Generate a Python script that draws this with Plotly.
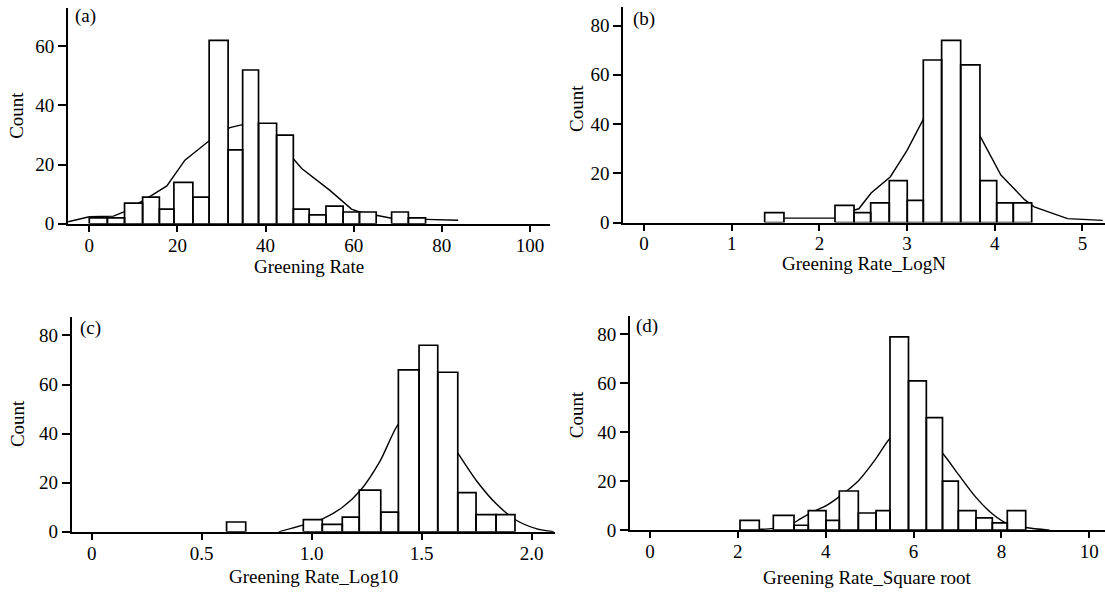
import plotly.graph_objects as go

W, H = 1105, 602
FONT = "Liberation Serif, Times New Roman, serif"
FS = 19

# ---- (a) Greening Rate ----
a_edges = [0.0, 4.1, 8.0, 12.1, 15.9, 19.2, 23.5, 27.2, 31.5, 34.8, 38.4,
           42.5, 46.3, 49.9, 53.7, 57.6, 61.3, 65.1, 68.6, 72.4, 76.3]
a_counts = [2, 2, 7, 9, 5, 14, 9, 62, 25, 52, 34, 30, 5, 3, 6, 4, 4, 0, 4, 2]
a_curve_x = [-4.8, 0.0, 5.5, 8.0, 13.8, 17.6, 21.7, 27.2, 31.9, 35.0, 38.5,
             42.5, 46.3, 48.2, 54.6, 59.5, 61.3, 65.1, 68.6, 76.3, 83.7]
a_curve_y = [0.7, 2.4, 2.6, 4.1, 9.3, 12.8, 21.5, 28.1, 32.5, 33.6, 33.0,
             29.0, 22.0, 18.7, 11.3, 5.0, 4.0, 2.9, 1.9, 1.5, 1.2]
a_xticks = [0, 20, 40, 60, 80, 100]
a_xlabels = ["0", "20", "40", "60", "80", "100"]
a_yticks = [0, 20, 40, 60]

# ---- (b) Greening Rate_LogN ----
b_edges = [1.376, 1.596, 1.790, 1.985, 2.178, 2.395, 2.585, 2.797, 3.002,
           3.185, 3.394, 3.611, 3.831, 4.022, 4.211, 4.421]
b_counts = [4, 0, 0, 0, 7, 4, 8, 17, 9, 66, 74, 64, 17, 8, 8]
b_curve_x = [1.38, 2.18, 2.40, 2.45, 2.59, 2.81, 3.00, 3.19, 3.40, 3.60,
             3.84, 4.07, 4.34, 4.45, 4.83, 5.23]
b_curve_y = [1.8, 1.8, 5.1, 5.6, 12.0, 18.6, 29.3, 42.3, 50.0, 48.0,
             34.6, 19.3, 9.3, 6.4, 1.6, 0.9]
b_xticks = [0, 1, 2, 3, 4, 5]
b_xlabels = ["0", "1", "2", "3", "4", "5"]
b_yticks = [0, 20, 40, 60, 80]

# ---- (c) Greening Rate_Log10 ----
c_edges = [0.613, 0.700, 0.788, 0.875, 0.962, 1.048, 1.139, 1.216, 1.314,
           1.394, 1.488, 1.573, 1.664, 1.747, 1.838, 1.924]
c_counts = [4, 0, 0, 0, 5, 3, 6, 17, 8, 66, 76, 65, 16, 7, 7]
c_curve_x = [0.85, 0.96, 1.05, 1.14, 1.22, 1.31, 1.39, 1.46, 1.53, 1.60,
             1.66, 1.75, 1.84, 1.93, 2.02, 2.10]
c_curve_y = [0.0, 2.7, 5.3, 10.0, 16.7, 28.7, 43.4, 50.0, 48.5, 41.0,
             32.7, 20.7, 11.3, 4.7, 1.3, 0.0]
c_xticks = [0, 0.5, 1.0, 1.5, 2.0]
c_xlabels = ["0", "0.5", "1.0", "1.5", "2.0"]
c_yticks = [0, 20, 40, 60, 80]

# ---- (d) Greening Rate_Square root ----
d_edges = [2.049, 2.488, 2.807, 3.278, 3.603, 4.006, 4.309, 4.742, 5.145,
           5.463, 5.884, 6.290, 6.658, 7.018, 7.421, 7.792, 8.133, 8.552]
d_counts = [4, 0, 6, 2, 8, 4, 16, 7, 8, 79, 61, 46, 20, 8, 5, 3, 8]
d_curve_x = [2.05, 2.47, 2.81, 3.28, 3.42, 3.72, 4.01, 4.31, 4.74, 5.15,
             5.46, 5.80, 6.20, 6.66, 7.02, 7.42, 7.79, 8.13, 8.55, 9.10]
d_curve_y = [0.1, 0.3, 0.7, 3.1, 4.6, 7.6, 10.0, 13.7, 20.1, 29.4,
             37.5, 42.0, 40.0, 31.4, 22.8, 13.4, 6.7, 2.7, 1.1, 0.0]
d_xticks = [0, 2, 4, 6, 8, 10]
d_xlabels = ["0", "2", "4", "6", "8", "10"]
d_yticks = [0, 20, 40, 60, 80]


def bar_outline(edges, counts):
    """Closed rectangles (separated by gaps) for each non-empty bin."""
    xs, ys = [], []
    for left, right, c in zip(edges[:-1], edges[1:], counts):
        if c <= 0:
            continue
        xs += [left, left, right, right, left, None]
        ys += [0, c, c, 0, 0, None]
    return xs, ys


def px_x(p):
    return p / W


def px_y(p):
    return 1 - p / H


panels = [
    dict(tag="(a)", edges=a_edges, counts=a_counts, cx=a_curve_x, cy=a_curve_y,
         shape="linear", xt=a_xticks, xl=a_xlabels, yt=a_yticks,
         xr=[-4.83, 104.54], yr=[0, 72.9], box=(68, 550, 8.3, 228),
         title="Greening Rate", title_y=271, count_xy=(17, 118), tag_xy=(73, 16.5)),
    dict(tag="(b)", edges=b_edges, counts=b_counts, cx=b_curve_x, cy=b_curve_y,
         shape="linear", xt=b_xticks, xl=b_xlabels, yt=b_yticks,
         xr=[-0.236, 5.257], yr=[0, 87.7], box=(623.3, 1105, 6.7, 226.7),
         title="Greening Rate_LogN", title_y=268, count_xy=(577, 111), tag_xy=(631, 19)),
    dict(tag="(c)", edges=c_edges, counts=c_counts, cx=c_curve_x, cy=c_curve_y,
         shape="spline", xt=c_xticks, xl=c_xlabels, yt=c_yticks,
         xr=[-0.091, 2.106], yr=[0, 87.6], box=(71.7, 555, 322.7, 541.7),
         title="Greening Rate_Log10", title_y=587, count_xy=(17, 432), tag_xy=(78, 334.5)),
    dict(tag="(d)", edges=d_edges, counts=d_counts, cx=d_curve_x, cy=d_curve_y,
         shape="spline", xt=d_xticks, xl=d_xlabels, yt=d_yticks,
         xr=[-0.455, 10.357], yr=[0, 87.6], box=(630, 1105, 321.7, 540),
         title="Greening Rate_Square root", title_y=588, count_xy=(576, 423), tag_xy=(634, 332.5)),
]

fig = go.Figure()
annotations = []
layout_axes = {}

for i, p in enumerate(panels, start=1):
    sx = "" if i == 1 else str(i)
    xref, yref = "x" + sx, "y" + sx

    # density curve first, so the white bars sit on top of it
    fig.add_trace(go.Scatter(
        x=p["cx"], y=p["cy"], mode="lines", xaxis=xref, yaxis=yref,
        line=dict(color="black", width=1.4, shape=p["shape"], smoothing=0.8),
        hoverinfo="skip", showlegend=False))

    bx, by = bar_outline(p["edges"], p["counts"])
    fig.add_trace(go.Scatter(
        x=bx, y=by, mode="lines", fill="toself", fillcolor="white",
        xaxis=xref, yaxis=yref,
        line=dict(color="black", width=1.7), showlegend=False))

    x0, x1, ytop, ybot = p["box"]
    axis_common = dict(showline=True, linecolor="black", linewidth=2,
                       ticks="outside", tickcolor="black", tickwidth=2,
                       showgrid=False, zeroline=False,
                       tickfont=dict(family=FONT, size=FS, color="black"))
    layout_axes["xaxis" + sx] = dict(
        axis_common, domain=[px_x(x0), min(px_x(x1), 1.0)], range=p["xr"],
        anchor=yref, tickmode="array", tickvals=p["xt"], ticktext=p["xl"],
        ticklen=6, ticklabelstandoff=-3)
    layout_axes["yaxis" + sx] = dict(
        axis_common, domain=[px_y(ybot), px_y(ytop)], range=p["yr"],
        anchor=xref, tickmode="array", tickvals=p["yt"], ticklen=8)

    annotations.append(dict(
        text=p["title"], xref="paper", yref="paper",
        x=px_x((x0 + x1) / 2), y=px_y(p["title_y"]),
        xanchor="center", yanchor="middle", showarrow=False,
        font=dict(family=FONT, size=FS, color="black")))
    annotations.append(dict(
        text="Count", xref="paper", yref="paper", textangle=-90,
        x=px_x(p["count_xy"][0]), y=px_y(p["count_xy"][1]),
        xanchor="center", yanchor="middle", showarrow=False,
        font=dict(family=FONT, size=FS, color="black")))
    annotations.append(dict(
        text=p["tag"], xref="paper", yref="paper",
        x=px_x(p["tag_xy"][0]), y=px_y(p["tag_xy"][1]),
        xanchor="left", yanchor="middle", showarrow=False,
        font=dict(family=FONT, size=FS, color="black")))

fig.update_layout(
    width=W, height=H,
    margin=dict(l=0, r=0, t=0, b=0),
    paper_bgcolor="white", plot_bgcolor="white",
    font=dict(family=FONT, size=FS, color="black"),
    showlegend=False,
    annotations=annotations,
    **layout_axes,
)

fig.write_html("out.html")
